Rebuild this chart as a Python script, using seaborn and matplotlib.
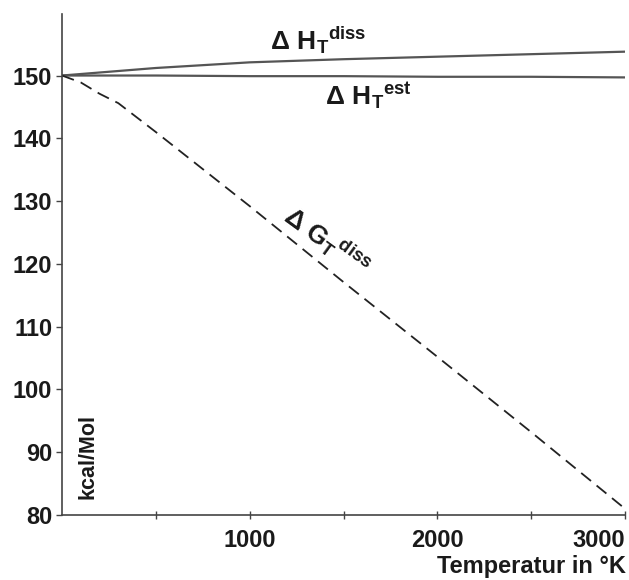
import matplotlib
matplotlib.use("Agg")
import matplotlib.pyplot as plt
import seaborn as sns
import pandas as pd
import numpy as np

# Data
T_h = [0, 500, 1000, 1500, 2000, 2500, 3000]
H_diss = [150.0, 151.2, 152.1, 152.6, 153.0, 153.4, 153.8]
H_est = [150.0, 150.0, 149.9, 149.9, 149.8, 149.8, 149.7]
T_g = [0, 100, 200, 300, 500, 1000, 1500, 2000, 2500, 3000]
G_diss = [150.0, 148.9, 147.1, 145.6, 141.0, 129.2, 117.1, 105.2, 93.2, 81.0]

x_major = [1000, 2000, 3000]
x_minor = [500, 1500, 2500]
y_ticks = [80, 90, 100, 110, 120, 130, 140, 150]

sns.set_style("ticks")
plt.rcParams['font.family'] = ['Liberation Sans', 'DejaVu Sans']
plt.rcParams['mathtext.fontset'] = 'custom'
plt.rcParams['mathtext.rm'] = 'Liberation Sans:bold'
plt.rcParams['mathtext.it'] = 'Liberation Sans:bold'
plt.rcParams['mathtext.bf'] = 'Liberation Sans:bold'

fig = plt.figure(figsize=(6.29, 5.80), dpi=100)
ax = fig.add_axes([62/629, 65/580, (625-62)/629, (515-14)/580])

line_col = '#555555'
dfh = pd.DataFrame({'T': T_h, 'diss': H_diss, 'est': H_est})
dfg = pd.DataFrame({'T': T_g, 'G': G_diss})
sns.lineplot(data=dfh, x='T', y='diss', ax=ax, color=line_col, lw=1.6)
sns.lineplot(data=dfh, x='T', y='est', ax=ax, color=line_col, lw=1.6)
sns.lineplot(data=dfg, x='T', y='G', ax=ax, color='#222222', lw=1.3)
ax.lines[-1].set_dashes([7, 4])

ax.set_xlim(0, 3000)
ax.set_ylim(80, 159.8)
for s in ['top', 'right']:
    ax.spines[s].set_visible(False)
for s in ['left', 'bottom']:
    ax.spines[s].set_color('#444444')
    ax.spines[s].set_linewidth(1.2)

tick_col = '#1a1a1a'
ax.set_yticks(y_ticks)
ax.set_yticklabels([str(v) for v in y_ticks], fontsize=17, fontweight='bold', color=tick_col)
ax.set_xticks(x_major)
ax.set_xticklabels([str(v) for v in x_major], fontsize=17, fontweight='bold', color=tick_col)
ax.set_xticks(x_minor, minor=True)
ax.tick_params(axis='y', direction='out', length=4, width=1, color='#444444', pad=3)
ax.tick_params(axis='x', which='both', direction='inout', length=6, width=1, color='#444444', pad=7)
xl = ax.get_xticklabels()
xl[-1].set_ha('right')
ax.set_xlabel('')
ax.set_ylabel('')

ax.text(0.028, 0.116, 'kcal/Mol', transform=ax.transAxes, rotation=90, fontsize=15.5,
        fontweight='bold', color=tick_col, ha='left', va='center')
fig.text(626/629, 14/580, 'Temperatur in °K', ha='right', va='center',
         fontsize=17, fontweight='bold', color=tick_col)

ax.text(1110, 155.6, r'$\Delta\ \mathrm{H_T}^{\mathrm{diss}}$', fontsize=19, color=tick_col,
        ha='left', va='center')
ax.text(1400, 146.7, r'$\Delta\ \mathrm{H_T}^{\mathrm{est}}$', fontsize=19, color=tick_col,
        ha='left', va='center')
ax.text(1410, 123.6, r'$\Delta\ \mathrm{G_T}^{\mathrm{diss}}$', fontsize=19, color=tick_col,
        ha='center', va='center', rotation=-36)

fig.savefig('out.png', dpi=100, facecolor='white')
